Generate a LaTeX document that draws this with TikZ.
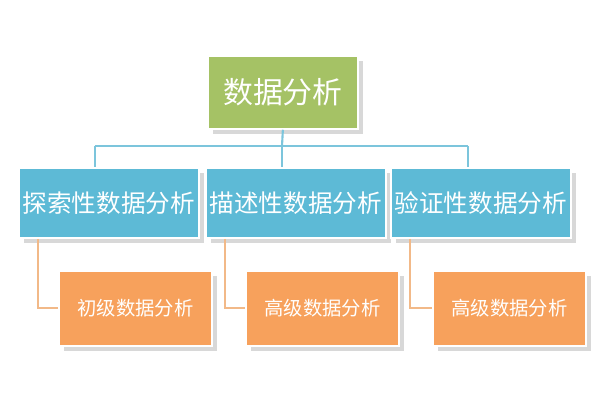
\documentclass[tikz,border=0pt]{standalone}
\usepackage{fontspec}
\setmainfont{Noto Sans CJK SC}
\usetikzlibrary{shadows}
\definecolor{gr}{HTML}{A5C265}
\definecolor{bl}{HTML}{5DBAD6}
\definecolor{bll}{HTML}{7CC5DC}
\definecolor{or}{HTML}{F7A15C}
\definecolor{orl}{HTML}{F2B988}
\tikzset{
 boxA/.style={draw=white,line width=1pt,drop shadow={opacity=0.3},text=white,inner sep=0,anchor=north west},
 blink/.style={draw=bll,line width=1.2pt},
 olink/.style={draw=orl,line width=1.2pt}
}
\begin{document}
\begin{tikzpicture}[x=0.02cm,y=-0.02cm]
\useasboundingbox[fill=white] (0,0) rectangle (600,400);
\foreach \n/\x/\t in {b1/18/探索性数据分析,b2/205/描述性数据分析,b3/390/验证性数据分析}
 \node[boxA,fill=bl,minimum width=180*0.02cm,minimum height=70*0.02cm,font=\fontsize{14}{17}\selectfont] (\n) at (\x,167) {\t};
\coordinate (j) at (282,146);
\coordinate (j1) at (95,146);
\coordinate (j3) at (468,146);
\draw[blink] (j1) -- (j3);
\draw[blink] (j1) -- (j1 |- b1.north);
\draw[blink] (j3) -- (j3 |- b3.north);
\draw[blink] (j) -- (j |- b2.north);
\node[boxA,fill=gr,minimum width=150*0.02cm,minimum height=73*0.02cm,font=\fontsize{17}{20}\selectfont] (top) at (207,55) {数据分析};
\draw[blink] (top.south) -- (j);
\foreach \n/\x/\t in {o1/58/初级数据分析,o2/245/高级数据分析,o3/432/高级数据分析}
 \node[boxA,fill=or,minimum width=153*0.02cm,minimum height=75*0.02cm,font=\fontsize{11}{14}\selectfont] (\n) at (\x,270) {\t};
\draw[olink] (b1.south west) ++(20,0) |- (o1.west);
\draw[olink] (b2.south west) ++(20,0) |- (o2.west);
\draw[olink] (b3.south west) ++(20,0) |- (o3.west);
\end{tikzpicture}
\end{document}
